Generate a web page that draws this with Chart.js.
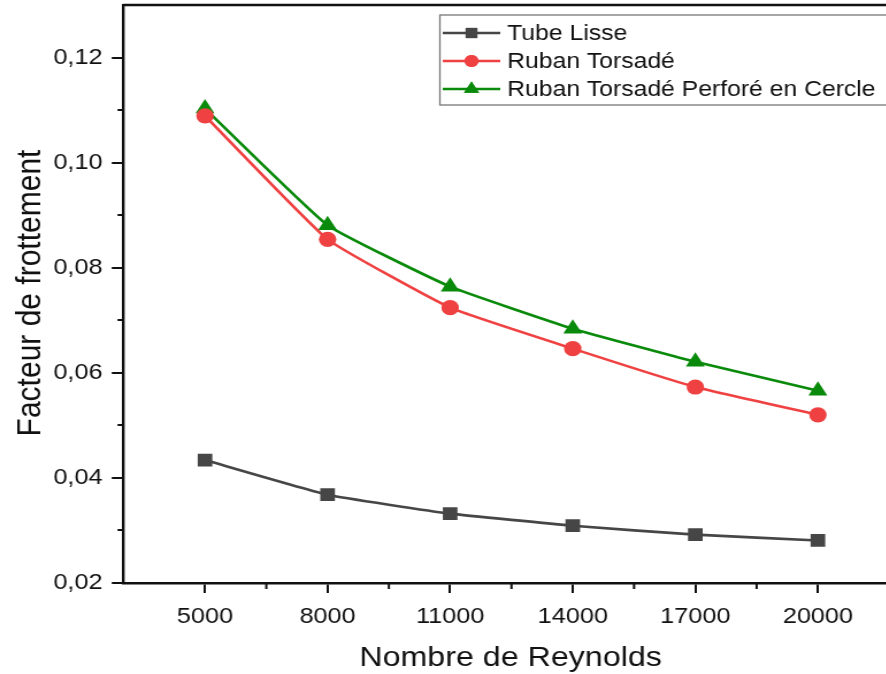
<!DOCTYPE html>
<html>
<head>
<meta charset="utf-8">
<script src="https://cdn.jsdelivr.net/npm/chart.js@4/dist/chart.umd.min.js"></script>
<style>
  html, body { margin: 0; padding: 0; background: #fff; overflow: hidden; }
  /* la figure est legerement etiree en largeur */
  #friction-chart { display: block; transform: scaleX(1.15); transform-origin: 0 0; }
</style>
</head>
<body>
<canvas id="friction-chart" width="787" height="674"></canvas>
<script>
/* donnees : facteur de frottement en fonction du nombre de Reynolds */
const reynolds = [5000, 8000, 11000, 14000, 17000, 20000]
const tubeLisse = [0.0434, 0.0368, 0.0332, 0.0309, 0.0292, 0.0281]
const rubanTorsade = [0.1089, 0.0854, 0.0724, 0.0646, 0.0573, 0.0520]
const rubanPerfore = [0.1103, 0.0881, 0.0764, 0.0684, 0.0621, 0.0566]
const yTicks = [0.02, 0.04, 0.06, 0.08, 0.10, 0.12]
const yMinorTicks = [0.03, 0.05, 0.07, 0.09, 0.11]
const xMinorTicks = [6500, 9500, 12500, 15500, 18500]

const FONT = "'Liberation Sans', Arial, sans-serif"

const series = [
    { label: "Tube Lisse", data: tubeLisse, color: "#464646", style: "rect", radius: 9 },
    { label: "Ruban Torsadé", data: rubanTorsade, color: "#ef4141", style: "circle", radius: 7.6 },
    { label: "Ruban Torsadé Perforé en Cercle", data: rubanPerfore, color: "#0a8a0a", style: "triangle", radius: 9.5 },
]

const toPoints = (values) => reynolds.map((x, i) => ({ x: x, y: values[i] }))

/* cadre, petites graduations, titres des axes et legende */
const decorations = {
    id: "decorations",
    afterDraw(chart) {
        const ctx = chart.ctx
        const area = chart.chartArea
        const xs = chart.scales.x
        const ys = chart.scales.y
        ctx.save()
        ctx.strokeStyle = "#111"
        ctx.lineWidth = 2.4
        ctx.beginPath()
        ctx.moveTo(area.left, area.top)
        ctx.lineTo(area.right, area.top)
        ctx.lineTo(area.right, area.bottom)
        ctx.stroke()

        ctx.lineWidth = 2
        ctx.beginPath()
        yMinorTicks.forEach(v => {
            const py = Math.round(ys.getPixelForValue(v))
            ctx.moveTo(area.left - 5, py)
            ctx.lineTo(area.left, py)
        })
        xMinorTicks.forEach(v => {
            const px = xs.getPixelForValue(v)
            ctx.moveTo(px, area.bottom)
            ctx.lineTo(px, area.bottom + 6)
        })
        ctx.stroke()

        // titres des axes
        ctx.fillStyle = "#111"
        ctx.textAlign = "center"
        ctx.textBaseline = "middle"
        ctx.font = "28px " + FONT
        ctx.fillText("Nombre de Reynolds", 444, 658)
        ctx.save()
        ctx.translate(27, 293)
        ctx.rotate(-Math.PI / 2)
        ctx.font = "30px " + FONT
        ctx.fillText("Facteur de frottement", 0, 0)
        ctx.restore()

        // legende
        const box = { left: 382.5, top: 15, right: 790, bottom: 105 }
        ctx.fillStyle = "#fff"
        ctx.fillRect(box.left, box.top, box.right - box.left, box.bottom - box.top)
        ctx.strokeStyle = "#777"
        ctx.lineWidth = 1.3
        ctx.strokeRect(box.left, box.top, box.right - box.left, box.bottom - box.top)
        const rows = [33, 61, 89]
        ctx.font = "21.5px " + FONT
        ctx.textAlign = "left"
        series.forEach((s, i) => {
            const y = rows[i]
            ctx.strokeStyle = s.color
            ctx.lineWidth = 2.5
            ctx.beginPath()
            ctx.moveTo(385, y)
            ctx.lineTo(435, y)
            ctx.stroke()
            ctx.fillStyle = s.color
            Chart.helpers.drawPoint(ctx, { pointStyle: s.style, radius: s.radius * 0.8, borderWidth: 0 }, 410, y)
            ctx.fill()
            ctx.fillStyle = "#111"
            ctx.fillText(s.label, 441, y + 1)
        })
        ctx.restore()
    }
}

const ctxFriction = document.querySelector("#friction-chart").getContext("2d")

const frictionChart = new Chart(ctxFriction, {
    type: "line",
    data: {
        datasets: series.map(s => ({
            label: s.label,
            data: toPoints(s.data),
            borderColor: s.color,
            backgroundColor: s.color,
            borderWidth: 2.6,
            pointStyle: s.style,
            pointRadius: s.radius,
            pointBorderWidth: 0,
            pointBackgroundColor: s.color,
            tension: 0.12,
        }))
    },
    options: {
        responsive: false,
        animation: false,
        devicePixelRatio: 1,
        layout: { autoPadding: false, padding: { left: 0, top: 5, right: 4.7, bottom: 0 } },
        plugins: {
            legend: { display: false },
            tooltip: { enabled: false },
        },
        scales: {
            x: {
                type: "linear",
                min: 3000,
                max: 22000,
                afterBuildTicks: (scale) => { scale.ticks = reynolds.map(v => ({ value: v })) },
                afterFit: (scale) => {
                    scale.height = 91
                    scale.paddingLeft = 0
                    scale.paddingRight = 0
                },
                border: { color: "#111", width: 2.4 },
                grid: { drawOnChartArea: false, drawTicks: true, tickLength: 10, color: "#111", lineWidth: 2 },
                ticks: {
                    color: "#111",
                    padding: 11,
                    maxRotation: 0,
                    font: { family: FONT, size: 22 },
                    callback: (v) => String(v),
                },
            },
            y: {
                min: 0.02,
                max: 0.13,
                afterBuildTicks: (scale) => { scale.ticks = yTicks.map(v => ({ value: v })) },
                afterFit: (scale) => {
                    scale.width = 107.2
                    scale.paddingTop = 0
                    scale.paddingBottom = 0
                },
                border: { color: "#111", width: 2.4 },
                grid: { drawOnChartArea: false, drawTicks: true, tickLength: 10, color: "#111", lineWidth: 2 },
                ticks: {
                    color: "#111",
                    padding: 8,
                    font: { family: FONT, size: 22 },
                    callback: (v) => v.toFixed(2).replace(".", ","),
                },
            },
        },
    },
    plugins: [decorations],
})
</script>
</body>
</html>
